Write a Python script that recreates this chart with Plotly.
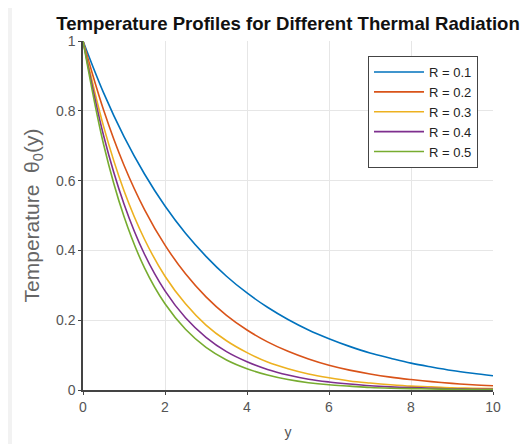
import plotly.graph_objects as go

x_vals = [0.0, 0.5, 1.0, 1.5, 2.0, 2.5, 3.0, 3.5, 4.0, 4.5, 5.0,
          5.5, 6.0, 6.5, 7.0, 7.5, 8.0, 8.5, 9.0, 9.5, 10.0]

r01 = [1.000, 0.852, 0.726, 0.619, 0.527, 0.449, 0.383, 0.326, 0.278, 0.237, 0.202,
       0.172, 0.147, 0.125, 0.106, 0.091, 0.077, 0.066, 0.056, 0.048, 0.041]
r02 = [1.000, 0.803, 0.644, 0.517, 0.415, 0.333, 0.267, 0.214, 0.172, 0.138, 0.111,
       0.089, 0.071, 0.057, 0.046, 0.037, 0.030, 0.024, 0.019, 0.015, 0.012]
r03 = [1.000, 0.756, 0.571, 0.432, 0.326, 0.247, 0.186, 0.141, 0.107, 0.080, 0.061,
       0.046, 0.035, 0.026, 0.020, 0.015, 0.011, 0.009, 0.006, 0.005, 0.004]
r04 = [1.000, 0.730, 0.533, 0.389, 0.284, 0.207, 0.151, 0.110, 0.081, 0.059, 0.043,
       0.031, 0.023, 0.017, 0.012, 0.009, 0.007, 0.005, 0.003, 0.002, 0.002]
r05 = [1.000, 0.705, 0.497, 0.350, 0.247, 0.174, 0.122, 0.086, 0.061, 0.043, 0.030,
       0.021, 0.015, 0.011, 0.007, 0.005, 0.004, 0.003, 0.002, 0.001, 0.001]

series_names = ["R = 0.1", "R = 0.2", "R = 0.3", "R = 0.4", "R = 0.5"]
series_values = [r01, r02, r03, r04, r05]
colors = ["#0072BD", "#D95319", "#EDB120", "#7E2F8E", "#77AC30"]

x_ticks = [0, 2, 4, 6, 8, 10]
y_ticks = [0, 0.2, 0.4, 0.6, 0.8, 1]
y_tick_labels = ["0", "0.2", "0.4", "0.6", "0.8", "1"]

fig = go.Figure()
for name, vals, c in zip(series_names, series_values, colors):
    fig.add_trace(go.Scatter(x=x_vals, y=vals, mode="lines", name=name,
                             line=dict(color=c, width=1.6, shape="spline")))

font_fam = "Liberation Sans, Arial, sans-serif"
# page body has an 8px margin, so the figure is 8px smaller and margins compensate
fig.update_layout(
    width=523, height=436,
    margin=dict(l=75, r=38, t=33, b=54, autoexpand=False),
    paper_bgcolor="white", plot_bgcolor="white",
    font=dict(family=font_fam, size=13, color="#555555"),
    title=dict(text="<b>Temperature Profiles for Different Thermal Radiation</b>",
               x=(75 + 205) / 523, xanchor="center", y=1 - 15 / 436, yanchor="middle",
               font=dict(family=font_fam, size=18.6, color="#111111")),
    xaxis=dict(range=[0, 10], tickvals=x_ticks, showgrid=True, gridcolor="#e6e6e6",
               showline=True, linecolor="#444444", linewidth=1.5, zeroline=False,
               ticks="outside", ticklen=3, tickcolor="#444444", automargin=False,
               title=dict(text="y", standoff=14, font=dict(size=14, color="#555555")),
               tickfont=dict(size=14, color="#555555")),
    yaxis=dict(range=[0, 1], tickvals=y_ticks, ticktext=y_tick_labels, showgrid=True,
               gridcolor="#e6e6e6", showline=True, linecolor="#444444", linewidth=1.5,
               zeroline=False, ticks="outside", ticklen=3, tickcolor="#444444",
               automargin=False,
               title=dict(text="Temperature  θ<sub>0</sub>(y)", standoff=11,
                          font=dict(size=21, color="#666666")),
               tickfont=dict(size=14, color="#555555")),
    legend=dict(x=(478 - 83) / 410, y=(390 - 56) / 349, xanchor="right", yanchor="top",
                bgcolor="white", bordercolor="#444444", borderwidth=1,
                font=dict(size=13, color="#222222"), itemwidth=50,
                tracegroupgap=0),
    shapes=[dict(type="rect", xref="paper", yref="paper",
                 x0=-83 / 410, x1=-71 / 410, y0=-54 / 349, y1=(444 - 54) / 349,
                 fillcolor="#f2f2f2", line=dict(width=0), layer="below")],
)

fig.write_html("out.html")
